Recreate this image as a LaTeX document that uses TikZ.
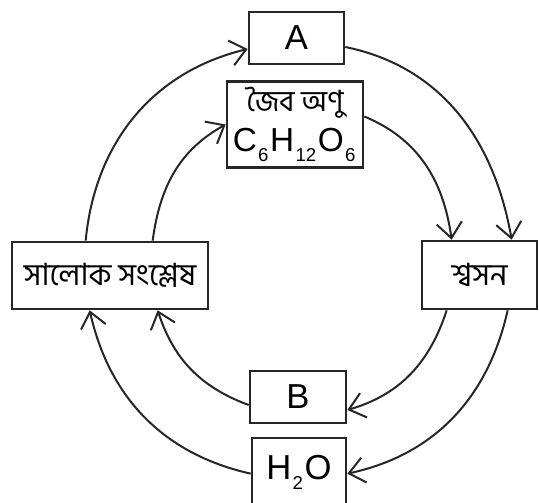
\documentclass[tikz,border=0pt]{standalone}
\usepackage{fontspec}
\setmainfont{Liberation Sans}
\newfontfamily\bn[Script=Bengali]{Hind Siliguri}
\usetikzlibrary{arrows.meta,calc}
\newcommand\sbs[1]{\kern1pt\raisebox{-7.5pt}{\fontsize{14}{14}\selectfont #1}\kern1.2pt}
\begin{document}
\begin{tikzpicture}[x=0.75pt,y=0.75pt,
  box/.style={draw=black!85, line width=2pt, inner sep=0pt, fill=white},
  lat/.style={font=\fontsize{26}{30}\selectfont},
  ben/.style={font=\bn\fontsize{23}{26}\selectfont},
  conn/.style={line width=1.5pt, black!85, -{Straight Barb[length=11.5pt,width=19pt]}}]
\useasboundingbox (0,0) rectangle (539,503);
% boxes
\node[box,lat,minimum width=71.25pt,minimum height=39pt] (A) at (296.5,465) {A};
\node[box,minimum width=102pt,minimum height=64.5pt,align=center] (jib) at (295,378.5)
  {{\bn\fontsize{22}{24}\selectfont জৈব অণু}\\[7pt]{\fontsize{25}{28}\selectfont C\sbs{6}H\sbs{12}O\sbs{6}}};
\node[box,ben,minimum width=147pt,minimum height=50.25pt] (sal) at (110,227.5) {সালোক সংশ্লেষ};
\node[box,ben,minimum width=86.25pt,minimum height=51pt] (shw) at (479.5,228) {শ্বসন};
\node[box,lat,minimum width=72pt,minimum height=39pt] (B) at (298,106) {B};
\node[box,lat,minimum width=70.5pt,minimum height=51.75pt] (h2o) at (299,30.5) {H\sbs{2}O};
% outer cycle
\draw[conn] ($(sal.north west)+(75,0)$) to[out=84.6,in=193.5] ($(A.west)+(0,-11)$);
\draw[conn] ($(A.east)+(0,-9)$) to[out=-11.6,in=100] ($(shw.north west)+(91,0)$);
\draw[conn] ($(shw.south west)+(87,0)$) to[out=-102.7,in=12.2] ($(h2o.north east)+(0,-37)$);
\draw[conn] ($(h2o.north west)+(0,-37)$) to[out=167.3,in=-77.3] ($(sal.south west)+(79,0)$);
% inner cycle
\draw[conn] ($(sal.north west)+(142,0)$) to[out=82.4,in=209] (jib.west);
\draw[conn] ($(jib.east)+(0,8)$) to[out=-22.5,in=98] ($(shw.north west)+(31,0)$);
\draw[conn] ($(shw.south west)+(26,0)$) to[out=-108,in=16.2] ($(B.east)+(0,-13)$);
\draw[conn] ($(B.west)+(0,-8)$) to[out=159.7,in=-72] ($(sal.south west)+(147,0)$);
\end{tikzpicture}
\end{document}
